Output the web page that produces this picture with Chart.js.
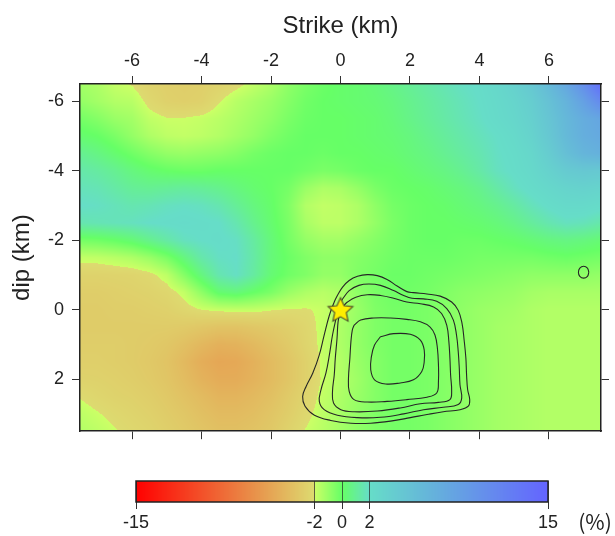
<!DOCTYPE html>
<html>
<head>
<meta charset="utf-8">
<script src="https://cdn.jsdelivr.net/npm/chart.js@4.4.0/dist/chart.umd.min.js"></script>
<style>
html,body{margin:0;padding:0;background:#fff;}
#wrap{position:relative;width:615px;height:536px;overflow:hidden;}
#main{position:absolute;left:0;top:0;}
#bar{position:absolute;left:0;top:450px;}
</style>
</head>
<body>
<div id="wrap">
<canvas id="main" width="615" height="450"></canvas>
<canvas id="bar" width="615" height="86"></canvas>
</div>
<script>
// ---------- data ----------
const xTicks = [-6, -4, -2, 0, 2, 4, 6];
const yTicks = [-6, -4, -2, 0, 2];
const barTicks = [-15, -2, 0, 2, 15];

// sample positions (km) of the grid
const gridX = [-7.5,-7,-6.5,-6,-5.5,-5,-4.5,-4,-3.5,-3,-2.5,-2,-1.5,-1,-0.5,0,0.5,1,1.5,2,2.5,3,3.5,4,4.5,5,5.5,6,6.5,7,7.5];
const gridY = [-6.5,-6,-5.5,-5,-4.5,-4,-3.5,-3,-2.5,-2,-1.5,-1,-0.5,0,0.5,1,1.5,2,2.5,3,3.5];

// values (%) per dip row
const rowM65 = [-1.2,-1.4,-1.85,-2.05,-2.5,-2.7,-2.8,-2.7,-2.5,-2.2,-1.8,-1.4,-0.8,-0.4,-0.1,0.1,0.2,0.4,0.7,1.0,1.3,1.6,1.9,2.1,2.6,3.3,4.3,5.8,7.8,10.5,14];
const rowM60 = [-0.9,-1.2,-1.5,-1.6,-2.2,-2.6,-2.7,-2.6,-2.05,-1.6,-1.3,-1.0,-0.6,-0.2,0,0.1,0.2,0.3,0.5,0.8,1.1,1.4,1.7,2.0,2.4,2.9,3.7,5.0,6.5,8.5,11];
const rowM55 = [-0.3,-0.6,-1.0,-1.2,-1.75,-1.96,-1.96,-1.85,-1.65,-1.4,-1.1,-0.8,-0.4,-0.1,0,0,0.1,0.2,0.4,0.7,1.0,1.3,1.6,1.9,2.3,2.7,3.4,4.6,6.0,7.2,8.0];
const rowM50 = [0.2,0.0,-0.4,-0.9,-1.4,-1.7,-1.8,-1.7,-1.5,-1.2,-0.9,-0.5,-0.2,0,0,0,0.1,0.2,0.3,0.5,0.8,1.1,1.4,1.7,2.0,2.4,3.1,4.3,5.8,7.0,7.6];
const rowM45 = [0.9,0.6,0.2,-0.2,-0.6,-0.9,-1.0,-0.9,-0.8,-0.6,-0.3,-0.1,0,0,-0.1,0,0,0.1,0.2,0.4,0.6,0.9,1.2,1.5,1.9,2.2,2.7,3.8,5.2,6.3,6.8];
const rowM40 = [1.4,1.2,0.9,0.5,0.2,0,-0.1,-0.1,0,0,0,0,0,-0.2,-0.4,-0.3,-0.1,0,0,0.2,0.4,0.6,0.9,1.3,1.8,2.1,2.5,3.2,4.0,4.3,4.2];
const rowM35 = [1.7,1.6,1.3,1.0,0.9,1.0,1.1,1.0,0.8,0.5,0.2,0,-0.3,-1.0,-1.4,-1.3,-0.9,-0.4,-0.1,0,0.1,0.3,0.5,0.8,1.3,1.8,2.2,2.6,3.0,3.2,3.0];
const rowM30 = [2.0,1.9,1.7,1.5,1.6,1.8,1.9,1.8,1.5,1.0,0.5,0.1,-0.5,-1.5,-1.8,-1.7,-1.4,-0.8,-0.3,-0.1,0,0.1,0.3,0.5,0.8,1.2,1.7,2.1,2.4,2.4,2.2];
const rowM25 = [1.5,1.6,1.7,1.8,2.0,2.1,2.2,2.1,2.0,1.5,0.8,0.2,-0.4,-1.3,-1.7,-1.7,-1.4,-0.9,-0.4,-0.1,0,0,0.1,0.2,0.4,0.7,1.1,1.5,1.8,1.7,1.4];
const rowM20 = [-0.3,-0.2,0,0.3,0.8,1.3,1.8,2.0,2.1,1.9,1.2,0.4,-0.3,-0.9,-1.2,-1.2,-0.9,-0.6,-0.3,-0.1,0,0,-0.1,-0.1,0,0.1,0.3,0.5,0.6,0.5,0.3];
const rowM15 = [-1.8,-1.75,-1.6,-1.4,-1.0,-0.4,0.5,1.4,1.9,2.0,1.3,0.4,-0.1,-0.5,-0.8,-0.8,-0.6,-0.4,-0.2,-0.1,-0.1,-0.1,-0.2,-0.3,-0.3,-0.3,-0.3,-0.2,-0.1,-0.2,-0.3];
const rowM10 = [-2.5,-2.5,-2.45,-2.4,-2.2,-1.7,-0.6,0.5,1.5,1.9,1.2,0.3,-0.2,-0.5,-0.9,-0.9,-0.5,-0.3,-0.1,-0.1,-0.2,-0.3,-0.4,-0.5,-0.6,-0.7,-0.8,-0.8,-0.8,-0.8,-0.9];
const rowM05 = [-2.8,-2.8,-2.7,-2.6,-2.5,-2.3,-1.8,-0.8,0.2,0.4,0,-0.4,-1.0,-1.4,-1.6,-1.4,-0.8,-0.4,-0.2,-0.2,-0.3,-0.5,-0.7,-0.8,-0.9,-1.0,-1.2,-1.3,-1.3,-1.3,-1.3];
const rowP00 = [-2.9,-2.9,-2.8,-2.8,-2.7,-2.6,-2.3,-2.0,-1.85,-1.8,-1.8,-1.95,-2.05,-2.05,-1.9,-1.5,-1.0,-0.5,-0.3,-0.3,-0.4,-0.6,-0.8,-1.0,-1.1,-1.2,-1.4,-1.5,-1.5,-1.5,-1.5];
const rowP05 = [-2.9,-2.9,-2.9,-2.9,-2.9,-2.9,-3.0,-3.2,-3.4,-3.4,-3.2,-3.0,-2.7,-2.3,-1.8,-1.4,-0.9,-0.5,-0.3,-0.3,-0.4,-0.6,-0.8,-1.0,-1.2,-1.3,-1.4,-1.5,-1.5,-1.5,-1.5];
const rowP10 = [-2.8,-2.8,-2.8,-2.9,-3.0,-3.2,-3.6,-4.1,-4.5,-4.4,-4.0,-3.5,-3.0,-2.4,-1.8,-1.4,-0.9,-0.5,-0.3,-0.3,-0.4,-0.6,-0.8,-1.0,-1.2,-1.3,-1.4,-1.5,-1.5,-1.5,-1.5];
const rowP15 = [-2.7,-2.7,-2.8,-2.9,-3.1,-3.4,-4.0,-4.7,-5.1,-5.0,-4.5,-3.9,-3.3,-2.6,-1.85,-1.5,-1.0,-0.6,-0.3,-0.3,-0.4,-0.6,-0.8,-1.0,-1.2,-1.3,-1.4,-1.5,-1.5,-1.5,-1.5];
const rowP20 = [-2.5,-2.55,-2.65,-2.8,-3.0,-3.3,-3.8,-4.4,-4.8,-4.8,-4.4,-3.9,-3.3,-2.6,-1.9,-1.5,-1.1,-0.6,-0.3,-0.3,-0.4,-0.6,-0.8,-1.0,-1.2,-1.3,-1.4,-1.5,-1.5,-1.5,-1.5];
const rowP25 = [-2.05,-2.3,-2.5,-2.6,-2.8,-3.1,-3.5,-3.9,-4.3,-4.3,-4.0,-3.6,-3.0,-2.4,-1.8,-1.4,-1.0,-0.6,-0.3,-0.3,-0.4,-0.6,-0.8,-1.0,-1.2,-1.3,-1.4,-1.5,-1.5,-1.5,-1.5];
const rowP30 = [-1.7,-1.95,-2.2,-2.4,-2.6,-2.9,-3.2,-3.6,-3.9,-3.9,-3.7,-3.3,-2.8,-2.2,-1.7,-1.3,-0.9,-0.5,-0.3,-0.3,-0.4,-0.6,-0.8,-1.0,-1.2,-1.3,-1.4,-1.5,-1.5,-1.5,-1.5];
const rowP35 = [-1.5,-1.7,-1.95,-2.2,-2.4,-2.7,-3.0,-3.3,-3.6,-3.6,-3.4,-3.1,-2.5,-1.95,-1.6,-1.2,-0.8,-0.5,-0.3,-0.3,-0.4,-0.6,-0.8,-1.0,-1.2,-1.3,-1.4,-1.5,-1.5,-1.5,-1.5];

const gridRows = [rowM65,rowM60,rowM55,rowM50,rowM45,rowM40,rowM35,rowM30,rowM25,rowM20,rowM15,rowM10,rowM05,rowP00,rowP05,rowP10,rowP15,rowP20,rowP25,rowP30,rowP35];

// contour lines (strike km, dip km)
const contour1 = [[-0.09,-0.41],[0.06,-0.65],[0.25,-0.84],[0.49,-0.96],[0.77,-1.01],[1.06,-0.98],[1.34,-0.87],[1.63,-0.68],[1.91,-0.52],[2.10,-0.49],[2.49,-0.45],[2.87,-0.39],[3.20,-0.22],[3.39,0.02],[3.50,0.40],[3.56,0.88],[3.61,1.40],[3.63,1.88],[3.66,2.30],[3.72,2.59],[3.68,2.78],[3.44,2.88],[2.96,2.94],[2.49,3.02],[2.01,3.11],[1.44,3.21],[0.87,3.27],[0.30,3.27],[-0.28,3.19],[-0.75,3.04],[-1.02,2.78],[-1.09,2.50],[-0.99,2.21],[-0.80,1.83],[-0.61,1.30],[-0.47,0.73],[-0.32,0.16],[-0.18,-0.22],[-0.09,-0.41]];
const contour2 = [[0.06,-0.31],[0.25,-0.55],[0.53,-0.70],[0.82,-0.74],[1.15,-0.70],[1.53,-0.55],[1.82,-0.41],[2.06,-0.33],[2.39,-0.31],[2.77,-0.24],[3.06,-0.03],[3.25,0.30],[3.34,0.73],[3.39,1.21],[3.42,1.69],[3.44,2.16],[3.49,2.54],[3.39,2.73],[2.96,2.81],[2.39,2.88],[1.82,3.00],[1.15,3.10],[0.49,3.11],[-0.09,3.04],[-0.47,2.88],[-0.61,2.64],[-0.56,2.30],[-0.42,1.83],[-0.32,1.30],[-0.23,0.73],[-0.13,0.26],[-0.04,-0.12],[0.06,-0.31]];
const contour3 = [[0.06,-0.08],[0.20,-0.22],[0.44,-0.36],[0.77,-0.43],[1.15,-0.41],[1.53,-0.33],[1.91,-0.22],[2.30,-0.17],[2.68,-0.08],[2.91,0.11],[3.06,0.45],[3.12,0.92],[3.15,1.40],[3.17,1.88],[3.20,2.35],[3.15,2.59],[2.82,2.67],[2.30,2.71],[1.72,2.83],[1.06,2.92],[0.39,2.94],[0.01,2.88],[-0.20,2.69],[-0.23,2.35],[-0.18,1.88],[-0.15,1.40],[-0.10,0.83],[-0.07,0.35],[-0.01,0.07],[0.06,-0.08]];
const contour4 = [[0.39,0.45],[0.58,0.30],[0.96,0.24],[1.44,0.24],[1.91,0.28],[2.30,0.35],[2.58,0.50],[2.72,0.73],[2.79,1.11],[2.82,1.59],[2.82,2.07],[2.77,2.40],[2.49,2.52],[1.91,2.59],[1.34,2.64],[0.77,2.66],[0.39,2.59],[0.25,2.35],[0.23,1.97],[0.27,1.40],[0.30,0.92],[0.34,0.59],[0.39,0.45]];
const contour5 = [[1.15,0.78],[1.53,0.69],[2.01,0.71],[2.30,0.88],[2.41,1.16],[2.41,1.50],[2.34,1.78],[2.10,2.02],[1.72,2.11],[1.30,2.14],[0.98,2.02],[0.87,1.73],[0.89,1.35],[0.98,1.02],[1.15,0.78]];
const contour6 = [[7.15,-1.08],[7.11,-0.96],[7.0,-0.91],[6.89,-0.96],[6.85,-1.08],[6.89,-1.20],[7.0,-1.25],[7.11,-1.20],[7.15,-1.08]];
const hypocenter = [[0, 0]];

// ---------- colour scale ----------
function lerp(a, b, t) { return [a[0]+(b[0]-a[0])*t, a[1]+(b[1]-a[1])*t, a[2]+(b[2]-a[2])*t]; }
function colorFor(v) {
  v = Math.max(-15, Math.min(15, v));
  if (v < -2) return lerp([255,0,0], [221,219,112], (v+15)/13);
  if (v < 0) return lerp([204,255,102], [102,255,102], (v+2)/2);
  if (v < 2) return lerp([102,255,102], [102,221,200], v/2);
  return lerp([102,221,200], [100,100,255], (v-2)/13);
}
function sampleGrid(x, y) {
  const nx = gridX.length, ny = gridY.length;
  let fx = (x - gridX[0]) / (gridX[1] - gridX[0]);
  let fy = (y - gridY[0]) / (gridY[1] - gridY[0]);
  fx = Math.max(0, Math.min(nx - 1, fx));
  fy = Math.max(0, Math.min(ny - 1, fy));
  const i = Math.min(nx - 2, Math.floor(fx)), j = Math.min(ny - 2, Math.floor(fy));
  const tx = fx - i, ty = fy - j;
  const r0 = gridRows[j], r1 = gridRows[j+1];
  return (1-tx)*(1-ty)*r0[i] + tx*(1-ty)*r0[i+1] + (1-tx)*ty*r1[i] + tx*ty*r1[i+1];
}

const FONT = '"Liberation Sans", Arial, Helvetica, sans-serif';
const TXT = '#222';

// ---------- plugins ----------
const heatPlugin = {
  id: 'heat',
  beforeDraw(chart) {
    const {ctx, chartArea: a, scales} = chart;
    const xs = scales.x, ys = scales.y;
    const w = Math.round(a.right - a.left), h = Math.round(a.bottom - a.top);
    const off = document.createElement('canvas');
    off.width = w; off.height = h;
    const octx = off.getContext('2d');
    const img = octx.createImageData(w, h);
    const xv = new Float64Array(w);
    for (let px = 0; px < w; px++) xv[px] = xs.getValueForPixel(a.left + px + 0.5);
    let k = 0;
    for (let py = 0; py < h; py++) {
      const yv = ys.getValueForPixel(a.top + py + 0.5);
      for (let px = 0; px < w; px++) {
        const c = colorFor(sampleGrid(xv[px], yv));
        img.data[k++] = c[0]; img.data[k++] = c[1]; img.data[k++] = c[2]; img.data[k++] = 255;
      }
    }
    octx.putImageData(img, 0, 0);
    ctx.drawImage(off, a.left, a.top);
  }
};

function makeStar(r) {
  const s = Math.ceil(r * 2 + 4);
  const c = document.createElement('canvas');
  c.width = s; c.height = s;
  const g = c.getContext('2d');
  g.beginPath();
  for (let k = 0; k < 10; k++) {
    const ang = -Math.PI / 2 + k * Math.PI / 5;
    const rad = (k % 2) ? r * 0.47 : r;
    const px = s / 2 + rad * Math.cos(ang), py = s / 2 + 1 + rad * Math.sin(ang);
    if (k === 0) g.moveTo(px, py); else g.lineTo(px, py);
  }
  g.closePath();
  g.fillStyle = '#ffee00';
  g.fill();
  g.lineWidth = 1.1;
  g.lineJoin = 'miter';
  g.strokeStyle = '#4a4a2a';
  g.stroke();
  return c;
}

function loopDataset(pts) {
  return {
    type: 'scatter', showLine: true, data: pts.map(p => ({x: p[0], y: p[1]})),
    borderColor: '#262626', borderWidth: 1.1, pointRadius: 0, tension: 0.4, fill: false
  };
}

const setTicks = (arr) => (s) => { s.ticks = arr.map(v => ({value: v})); };
const tickGrid = {drawOnChartArea: false, drawTicks: true, tickLength: 8, tickColor: '#333', color: '#333', lineWidth: 1};
const axBorder = {display: true, color: '#222', width: 1.5};

new Chart(document.getElementById('main'), {
  type: 'scatter',
  data: {
    datasets: [
      // first dataset is drawn on top
      { type: 'scatter', data: hypocenter.map(p => ({x: p[0], y: p[1]})),
        pointStyle: makeStar(13), pointRadius: 13, showLine: false },
      loopDataset(contour1), loopDataset(contour2), loopDataset(contour3),
      loopDataset(contour4), loopDataset(contour5), loopDataset(contour6)
    ]
  },
  options: {
    responsive: false, animation: false, events: [],
    layout: {padding: 0},
    plugins: {legend: {display: false}, tooltip: {enabled: false}},
    scales: {
      x: {
        type: 'linear', position: 'top', min: -7.5, max: 7.5,
        afterBuildTicks: setTicks(xTicks),
        afterFit: (s) => { s.height = 84; },
        ticks: {font: {family: FONT, size: 18}, color: TXT, padding: 4, maxRotation: 0, callback: (v) => String(v)},
        grid: tickGrid, border: axBorder,
        title: {display: true, text: 'Strike (km)', font: {family: FONT, size: 24}, color: TXT, padding: {top: 12, bottom: 0}}
      },
      x2: {
        type: 'linear', position: 'bottom', min: -7.5, max: 7.5,
        afterBuildTicks: setTicks(xTicks),
        afterFit: (s) => { s.height = 16; },
        ticks: {display: false},
        grid: tickGrid, border: axBorder
      },
      y: {
        type: 'linear', position: 'left', min: -6.5, max: 3.5, reverse: true,
        afterBuildTicks: setTicks(yTicks),
        afterFit: (s) => { s.width = 80; },
        ticks: {font: {family: FONT, size: 18}, color: TXT, padding: 8, callback: (v) => String(v)},
        grid: tickGrid, border: axBorder,
        title: {display: true, text: 'dip (km)', font: {family: FONT, size: 24}, color: TXT, padding: {top: 8, bottom: 0}}
      },
      y2: {
        type: 'linear', position: 'right', min: -6.5, max: 3.5, reverse: true,
        afterBuildTicks: setTicks(yTicks),
        afterFit: (s) => { s.width = 9; },
        ticks: {display: false},
        grid: tickGrid, border: axBorder
      }
    }
  },
  plugins: [heatPlugin]
});

// ---------- colour bar ----------
const barPlugin = {
  id: 'cbar',
  beforeDraw(chart) {
    const {ctx, chartArea: a, scales} = chart;
    const xs = scales.x;
    for (let px = Math.floor(a.left); px < Math.ceil(a.right); px++) {
      const c = colorFor(xs.getValueForPixel(px + 0.5));
      ctx.fillStyle = 'rgb(' + Math.round(c[0]) + ',' + Math.round(c[1]) + ',' + Math.round(c[2]) + ')';
      ctx.fillRect(px, a.top, 1, a.bottom - a.top);
    }
  },
  afterDraw(chart) {
    const {ctx, chartArea: a} = chart;
    ctx.save();
    ctx.strokeStyle = '#222';
    ctx.lineWidth = 1.5;
    ctx.strokeRect(a.left, a.top, a.right - a.left, a.bottom - a.top);
    ctx.fillStyle = TXT;
    ctx.font = '21px "Noto Sans CJK JP", ' + FONT;
    ctx.textAlign = 'center';
    ctx.textBaseline = 'middle';
    ctx.fillText('(%)', 595, 72);
    ctx.restore();
  }
};

new Chart(document.getElementById('bar'), {
  type: 'scatter',
  data: {datasets: [{data: []}]},
  options: {
    responsive: false, animation: false, events: [],
    layout: {padding: {left: 136, right: 67, top: 31, bottom: 0}},
    plugins: {legend: {display: false}, tooltip: {enabled: false}},
    scales: {
      x: {
        type: 'linear', position: 'bottom', min: -15, max: 15,
        afterBuildTicks: setTicks(barTicks),
        afterFit: (s) => { s.height = 34; },
        ticks: {font: {family: FONT, size: 18}, color: TXT, padding: 3, maxRotation: 0, callback: (v) => String(v)},
        grid: {drawOnChartArea: true, drawTicks: true, tickLength: 7, color: 'rgba(40,40,40,0.7)', tickColor: '#333', lineWidth: 1},
        border: {display: false}
      },
      y: {display: false, min: 0, max: 1}
    }
  },
  plugins: [barPlugin]
});
</script>
</body>
</html>
